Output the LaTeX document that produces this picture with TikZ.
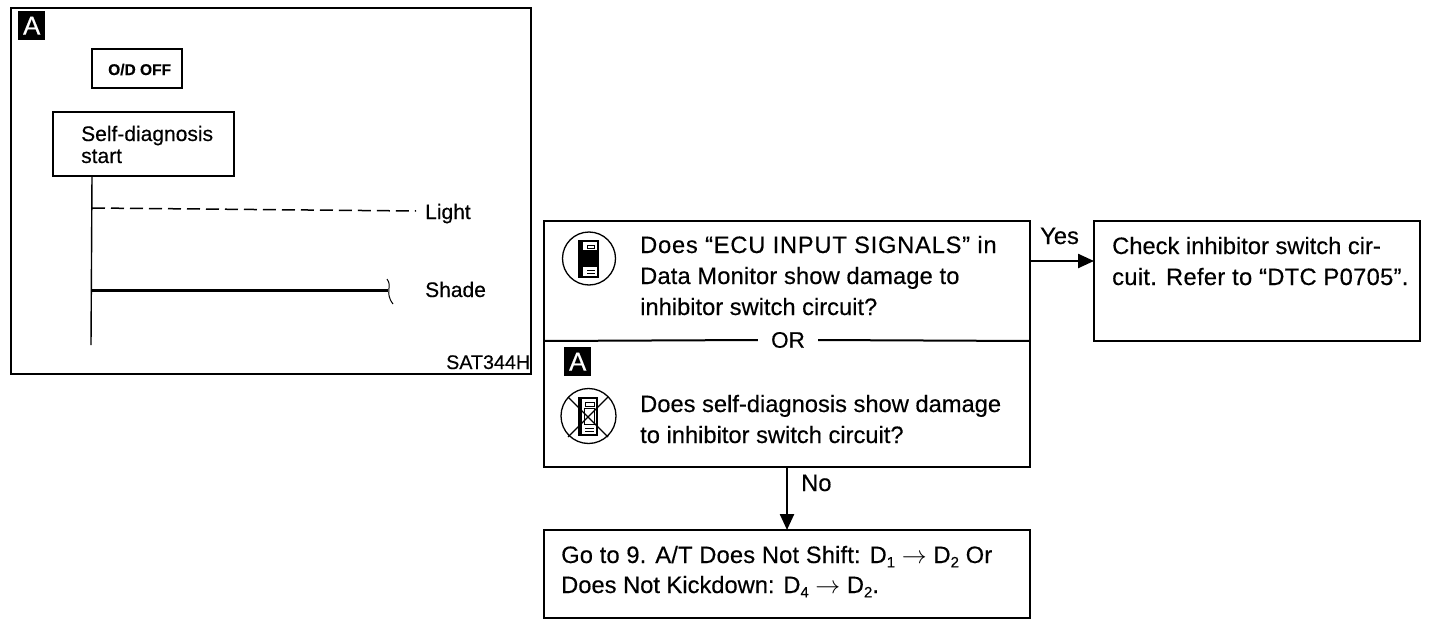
\documentclass[tikz,border=0pt]{standalone}
\usepackage{fontspec}
\setmainfont{Liberation Sans}[FakeBold=0.35]
\usetikzlibrary{arrows.meta}
\newcommand{\subdig}[1]{\raisebox{-0.35ex}{\fontsize{15}{15}\selectfont #1}}
\tikzset{
  x=1pt,y=-1pt,
  boxed/.style={draw=black,line width=2.2pt,fill=white,anchor=north west,inner sep=0pt,outer sep=0pt},
  lbl/.style={anchor=base west,inner sep=0pt,font=\fontsize{23.7}{30.5}\selectfont,text=black},
  small/.style={anchor=base west,inner sep=0pt,font=\fontsize{21}{23}\selectfont,text=black},
  badge/.style={fill=black,text=white,inner sep=0pt,minimum width=27pt,minimum height=29pt,anchor=north west,font=\fontsize{26}{26}\selectfont},
  wire/.style={draw=black,line width=1.4pt},
  arrowed/.style={draw=black,line width=2.4pt,-{Triangle[length=16pt,width=14pt]}},
  icon/.style={draw=black,line width=1.3pt}
}
\begin{document}
\begin{tikzpicture}
\useasboundingbox (0,0) rectangle (1440,626);
\fill[white] (0,0) rectangle (1440,626);
% left panel
\node[boxed,minimum width=520pt,minimum height=366pt] (panel) at (11,8) {};
\node[badge] (badgeA) at (18,11) {A};
\node[boxed,minimum width=90pt,minimum height=39pt] (od) at (92,49) {};
\node[anchor=base west,inner sep=0pt,font=\fontsize{15.5}{15}\selectfont\bfseries] (odt) at (108,75) {O/D OFF};
\node[boxed,line width=2.6pt,minimum width=181pt,minimum height=64pt] (self) at (53,112) {};
\node[small] (selft) at (81,141) {Self-diagnosis};
\node[small] (startt) at (81,163) {start};
\node[small] (light) at (425,219) {Light};
\node[small] (shade) at (425,297) {Shade};
\node[small,font=\fontsize{19.7}{23}\selectfont] (sat) at (446,369) {SAT344H};
\coordinate (vend) at (91,345);
\coordinate (vstart) at (92,176);
\coordinate (lightj) at (92,208);
\coordinate (shadej) at (92,290);
\coordinate (lightend) at (416,211);
\coordinate (shadeend) at (388,290);
\draw[wire] (vstart) -- (vend);
\draw[draw=black,line width=1.5pt,dash pattern=on 13pt off 6pt] (lightj) -- (lightend);
\draw[draw=black,line width=3pt] (shadej) -- (shadeend);
\draw[draw=black,line width=1pt] (387,279) .. controls (393,287) and (384,292) .. (393,304);
% question box
\node[boxed,minimum width=486pt,minimum height=246pt] (main) at (544,221) {};
\coordinate (divl) at (544,341);
\coordinate (divr) at (1030,341);
\node[fill=white,inner sep=0pt,minimum width=60pt,minimum height=26pt] (or) at (788,340) {\fontsize{22.5}{24}\selectfont OR};
\draw[draw=black,line width=2pt] (divl) -- (or.west);
\draw[draw=black,line width=2pt] (or.east) -- (divr);
\node[lbl] (q1a) at (640,253) {\addfontfeature{LetterSpace=3.2}Does “ECU INPUT SIGNALS” in};
\node[lbl] (q1b) at (640,284) {\addfontfeature{LetterSpace=0.6}Data Monitor show damage to};
\node[lbl] (q1c) at (640,315) {inhibitor switch circuit?};
\node[badge] (badgeB) at (564,347) {A};
\node[lbl] (q2a) at (640,412) {Does self-diagnosis show damage};
\node[lbl] (q2b) at (640,443) {to inhibitor switch circuit?};
% icon 1
\draw[icon] (589,258.5) circle (26.5);
\draw[icon,line width=1.8pt] (579,241) rectangle (598,277);
\fill[black] (578,241) rectangle (583,278);
\fill[black] (583,250) rectangle (598,267);
\draw[icon,line width=1pt] (587,245) rectangle (594,248);
\draw[icon,line width=1pt] (587,270) -- (595,270) (587,273) -- (595,273);
% icon 2
\draw[icon] (588.5,416) circle (27.5);
\draw[icon,line width=1.6pt] (579,398) rectangle (597,435);
\fill[black] (578,398) rectangle (582,436);
\draw[icon,line width=1pt] (585,402) rectangle (594,406);
\draw[icon,line width=1pt] (584,408) rectangle (594,424);
\draw[icon,line width=1pt] (585,428) -- (594,428) (585,431) -- (594,431);
\draw[icon] (568,397) -- (608,437) (608,397) -- (568,437);
% check box
\node[boxed,minimum width=326pt,minimum height=120pt] (check) at (1094,221) {};
\node[lbl] (c1) at (1112,254) {Check inhibitor switch cir-};
\node[lbl] (c2) at (1112,285) {\addfontfeature{LetterSpace=1.3}cuit. Refer to “DTC P0705”.};
\node[lbl] (yes) at (1040,244) {Yes};
% go box
\node[boxed,minimum width=486pt,minimum height=88pt] (go) at (544,530) {};
\node[lbl] (g1) at (561,563) {\addfontfeature{LetterSpace=0.7}Go to 9. A/T Does Not Shift: D\subdig{1} $\rightarrow$ D\subdig{2} Or};
\node[lbl] (g2) at (561,593) {Does Not Kickdown: D\subdig{4} $\rightarrow$ D\subdig{2}.};
\node[lbl] (no) at (801,491) {No};
% connectors
\coordinate (yesy) at (0,261);
\draw[arrowed] (main.east |- yesy) -- (check.west |- yesy);
\draw[arrowed] (main.south) -- (go.north);
\end{tikzpicture}
\end{document}
